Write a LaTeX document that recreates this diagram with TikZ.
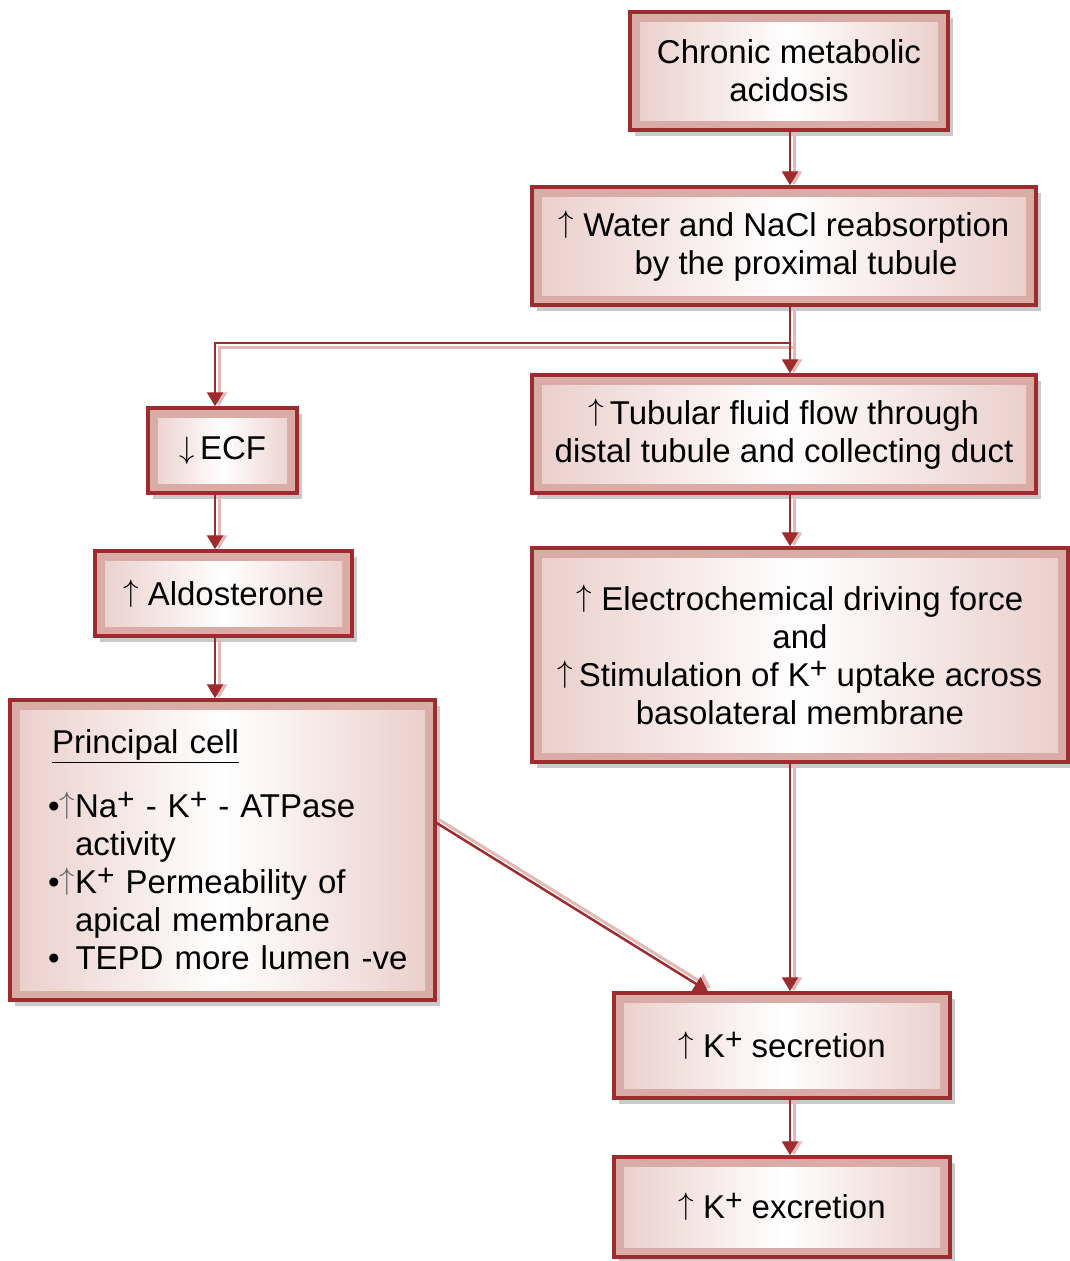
\RequirePackage{fix-cm}
\documentclass[tikz,border=0pt]{standalone}
\usepackage{fontspec}
\setmainfont{Liberation Sans}
\usetikzlibrary{arrows.meta,shadows}
\definecolor{boxred}{RGB}{158,44,46}
\definecolor{bevel}{RGB}{218,172,166}
\definecolor{innerpink}{RGB}{234,206,202}
\definecolor{linepink}{RGB}{228,184,180}
% thin text arrows and raised charge sign
\newcommand{\up}{\raisebox{4pt}{\fontsize{31}{31}\selectfont$\uparrow$}}
\newcommand{\down}{\raisebox{1pt}{\fontsize{31}{31}\selectfont$\downarrow$}}
\newcommand{\smallup}{\raisebox{4pt}{\color{black!60}\fontsize{31}{31}\selectfont$\uparrow$}}
\newcommand{\chg}{\raisebox{8pt}{\fontsize{30}{30}\selectfont +}}
\begin{document}
\begin{tikzpicture}[x=1pt,y=-1pt,
  box/.style={draw=boxred, line width=3.5pt, fill=bevel,
    drop shadow={shadow xshift=5pt, shadow yshift=-6pt, fill=black!30, opacity=0.7},
    path picture={\shade[left color=innerpink, right color=innerpink, middle color=white]
      ([shift={(10pt,-10pt)}]path picture bounding box.north west) rectangle
      ([shift={(-10pt,10pt)}]path picture bounding box.south east);},
    font=\fontsize{33}{38}\selectfont, align=center, inner sep=0pt},
  tip/.style={-{Triangle[width=16pt,length=14pt]}},
  conn/.style={draw=boxred, line width=2.5pt, tip},
  connshade/.style={draw=linepink, line width=3pt, tip}]
\useasboundingbox (0,0) rectangle (1070,1261);

% boxes
\node[box, minimum width=318, minimum height=118] (acid) at (789,71)
  {Chronic metabolic\\acidosis};
\node[box, minimum width=504, minimum height=118] (reabs) at (784,246)
  {\up\ Water and NaCl reabsorption\\\hspace*{24pt}by the proximal tubule};
\node[box, minimum width=504, minimum height=118] (flow) at (784,434)
  {\up\,Tubular fluid flow through\\distal tubule and collecting duct};
\node[box, minimum width=536, minimum height=214] (drive) at (800,655)
  {\up\ Electrochemical driving force\\and\\\up\,Stimulation of K\chg{} uptake across\\basolateral membrane};
\node[box, minimum width=149, minimum height=85] (ecf) at (222.5,450.5) {\down\,ECF};
\node[box, minimum width=257, minimum height=85] (aldo) at (223.5,593.5) {\up\ Aldosterone};
\node[box, minimum width=425, minimum height=300, align=left, text width=349pt,
  inner xsep=38pt] (pc) at (222.5,850)
  {\hspace*{4pt}\underline{Principal cell}\\[26pt]
   •\smallup Na\chg{} - K\chg{} - ATPase\\
   \hspace*{27pt}activity\\
   •\smallup K\chg{} Permeability of\\
   \hspace*{27pt}apical membrane\\
   \mbox{•\hspace*{16pt}TEPD more lumen -ve}};
\node[box, minimum width=336, minimum height=105] (sec) at (782,1045.5)
  {\up\ K\chg{} secretion};
\node[box, minimum width=336, minimum height=100] (exc) at (782,1207)
  {\up\ K\chg{} excretion};

% column guides
\coordinate (spine) at (790,0);
\coordinate (lcol) at (215,0);
\coordinate (split) at (790,343);

% connector shadows
\begin{scope}[transform canvas={xshift=4pt}]
  \draw[connshade] (acid.south -| spine) -- (reabs.north -| spine);
  \draw[connshade] (reabs.south -| spine) -- (flow.north -| spine);
  \draw[connshade] (flow.south -| spine) -- (drive.north -| spine);
  \draw[connshade] (ecf.south -| lcol) -- (aldo.north -| lcol);
  \draw[connshade] (aldo.south -| lcol) -- (pc.north -| lcol);
  \draw[connshade] (drive.south -| spine) -- (sec.north -| spine);
  \draw[connshade] (sec.south -| spine) -- (exc.north -| spine);
\end{scope}
\begin{scope}[transform canvas={shift={(4pt,-4pt)}}]
  \draw[connshade, shorten >=4pt] (split) -| (ecf.north -| lcol);
\end{scope}
\begin{scope}[transform canvas={shift={(3pt,3pt)}}]
  \draw[connshade] ([yshift=27pt]pc.east) -- ([xshift=-74pt]sec.north);
\end{scope}

% connectors
\draw[conn] (acid.south -| spine) -- (reabs.north -| spine);
\draw[conn] (reabs.south -| spine) -- (flow.north -| spine);
\draw[conn] (split) -| (ecf.north -| lcol);
\draw[conn] (flow.south -| spine) -- (drive.north -| spine);
\draw[conn] (ecf.south -| lcol) -- (aldo.north -| lcol);
\draw[conn] (aldo.south -| lcol) -- (pc.north -| lcol);
\draw[conn] ([yshift=27pt]pc.east) -- ([xshift=-74pt]sec.north);
\draw[conn] (drive.south -| spine) -- (sec.north -| spine);
\draw[conn] (sec.south -| spine) -- (exc.north -| spine);
\end{tikzpicture}
\end{document}
